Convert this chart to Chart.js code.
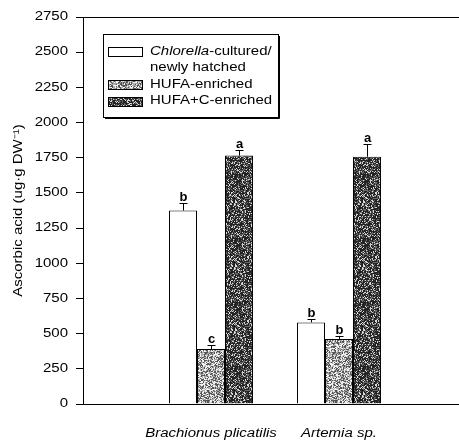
<!DOCTYPE html>
<html>
<head>
<meta charset="utf-8">
<script src="https://cdn.jsdelivr.net/npm/chart.js@4/dist/chart.umd.min.js"></script>
<style>
  html, body { margin: 0; padding: 0; background: #fff; overflow: hidden; width: 459px; height: 440px; }
  canvas { display: block; }
</style>
</head>
<body>
<canvas id="c" width="467" height="440"></canvas>
<script>
// ---- data ----
const categories = ['', 'Brachionus plicatilis', 'Artemia sp.', ''];
const seriesNames = ['Chlorella-cultured/ newly hatched', 'HUFA-enriched', 'HUFA+C-enriched'];
const chlorellaValues = [null, 1375, 580, null];
const hufaValues = [null, 390, 462, null];
const hufaCValues = [null, 1765, 1757, null];
const chlorellaErr = [null, 55, 25, null];
const hufaErr = [null, 28, 24, null];
const hufaCErr = [null, 40, 90, null];
const chlorellaLetters = ['', 'b', 'b', ''];
const hufaLetters = ['', 'c', 'b', ''];
const hufaCLetters = ['', 'a', 'a', ''];
const yTicks = [0, 250, 500, 750, 1000, 1250, 1500, 1750, 2000, 2250, 2500, 2750];

const FONT = '"Liberation Sans", Arial, sans-serif';
const TEXT_STRETCH = 1.25; // reference glyphs are wide

// ---- deterministic stipple patterns ----
function hash(x, y, s) {
  let h = (x * 374761393 + y * 668265263 + s * 982451653) | 0;
  h = (h ^ (h >>> 13)) * 1274126177 | 0;
  h = h ^ (h >>> 16);
  return ((h >>> 0) % 1000) / 1000;
}
function makePattern(levels, seed) {
  const c = document.createElement('canvas');
  c.width = 64; c.height = 64;
  const x = c.getContext('2d');
  const img = x.createImageData(64, 64);
  for (let j = 0; j < 64; j++) for (let i = 0; i < 64; i++) {
    const h = hash(i, j, seed);
    let v = levels[levels.length - 1][1];
    for (const [t, val] of levels) { if (h < t) { v = val; break; } }
    const k = (j * 64 + i) * 4;
    img.data[k] = img.data[k + 1] = img.data[k + 2] = v;
    img.data[k + 3] = 255;
  }
  x.putImageData(img, 0, 0);
  return document.getElementById('c').getContext('2d').createPattern(c, 'repeat');
}
const lightPat = makePattern([[0.33, 85], [0.68, 170], [1.01, 242]], 7);
const darkPat = makePattern([[0.55, 35], [0.82, 105], [1.01, 215]], 13);

const errs = [chlorellaErr, hufaErr, hufaCErr];
const letters = [chlorellaLetters, hufaLetters, hufaCLetters];

const wideText = {
  id: 'wideText',
  beforeDraw(chart) {
    const ctx = chart.ctx;
    if (ctx._origFillText) return;
    const orig = ctx.fillText;
    ctx._origFillText = orig;
    ctx.fillText = function (t, x, y) {
      this.save();
      this.translate(x, y);
      this.scale(TEXT_STRETCH, 1);
      orig.call(this, t, 0, 0);
      this.restore();
    };
  }
};

const overlay = {
  id: 'overlay',
  afterDatasetsDraw(chart) {
    const ctx = chart.ctx, y = chart.scales.y, a = chart.chartArea;
    const plainFill = ctx._origFillText || ctx.fillText;
    ctx.save();
    ctx.strokeStyle = '#000';
    ctx.fillStyle = '#000';
    ctx.lineWidth = 1;
    chart.data.datasets.forEach((ds, di) => {
      const meta = chart.getDatasetMeta(di);
      meta.data.forEach((bar, i) => {
        const v = ds.data[i];
        if (v == null) return;
        const e = errs[di][i];
        const x = Math.round(bar.x) + 0.5;
        const yTop = y.getPixelForValue(v);
        const yErr = Math.round(y.getPixelForValue(v + e)) + 0.5;
        ctx.beginPath();
        ctx.moveTo(x, yTop); ctx.lineTo(x, yErr);
        ctx.moveTo(x - 4, yErr); ctx.lineTo(x + 4, yErr);
        ctx.stroke();
        ctx.font = 'bold 13px ' + FONT;
        ctx.textAlign = 'center';
        ctx.textBaseline = 'alphabetic';
        plainFill.call(ctx, letters[di][i], x, yErr - 3);
      });
    });
    // top frame line
    ctx.beginPath();
    ctx.moveTo(a.left, a.top + 0.5);
    ctx.lineTo(chart.width, a.top + 0.5);
    ctx.stroke();
    // legend
    const L = 103, T = 34, R = 278, B = 117;
    ctx.fillStyle = '#fff';
    ctx.fillRect(L, T, R - L, B - T);
    ctx.strokeStyle = '#000';
    ctx.strokeRect(L + 0.5, T + 0.5, R - L, B - T);
    ctx.beginPath();
    ctx.moveTo(R + 1.5, T + 2); ctx.lineTo(R + 1.5, B + 1.5); ctx.lineTo(L + 2, B + 1.5);
    ctx.stroke();
    const sw = [[47, '#fff'], [80, lightPat], [97, darkPat]];
    sw.forEach(([sy, fill]) => {
      ctx.fillStyle = fill;
      ctx.fillRect(108, sy, 34, 9);
      ctx.strokeRect(108.5, sy + 0.5, 34, 9);
    });
    ctx.fillStyle = '#000';
    ctx.textAlign = 'left';
    ctx.textBaseline = 'middle';
    ctx.font = 'italic 12px ' + FONT;
    const w1 = ctx.measureText('Chlorella').width * TEXT_STRETCH;
    ctx.fillText('Chlorella', 150, 52);
    ctx.font = '12px ' + FONT;
    ctx.fillText('-cultured/', 150 + w1, 52);
    ctx.fillText('newly hatched', 150, 68);
    ctx.fillText(seriesNames[1], 150, 85);
    ctx.fillText(seriesNames[2], 150, 101);
    ctx.restore();
  }
};

const common = { borderColor: '#000', borderWidth: 1, borderSkipped: 'bottom', barPercentage: 1.0, categoryPercentage: 0.656 };

new Chart(document.getElementById('c'), {
  type: 'bar',
  data: {
    labels: categories,
    datasets: [
      Object.assign({ label: seriesNames[0], data: chlorellaValues, backgroundColor: '#fff' }, common),
      Object.assign({ label: seriesNames[1], data: hufaValues, backgroundColor: lightPat }, common),
      Object.assign({ label: seriesNames[2], data: hufaCValues, backgroundColor: darkPat }, common)
    ]
  },
  options: {
    responsive: false,
    animation: false,
    devicePixelRatio: 1,
    layout: { padding: { top: 17, right: 0, left: 0, bottom: 0 } },
    plugins: { legend: { display: false }, tooltip: { enabled: false } },
    scales: {
      x: {
        offset: false,
        grid: { display: true, drawOnChartArea: false, drawTicks: true, tickLength: 22, color: 'rgba(0,0,0,0)' },
        border: { display: true, color: '#000', width: 1 },
        ticks: {
          color: '#000', padding: 0, labelOffset: 0, maxRotation: 0, autoSkip: false,
          font: { family: FONT, size: 12, style: 'italic' }
        },
        afterFit(s) { s.height = 36; }
      },
      y: {
        min: 0, max: 2750,
        afterBuildTicks(s) { s.ticks = yTicks.map(v => ({ value: v })); },
        grid: { drawOnChartArea: false, drawTicks: true, tickLength: 7, color: '#000' },
        border: { display: true, color: '#000', width: 1 },
        ticks: {
          color: '#000', padding: 8,
          callback: v => String(v),
          font: { family: FONT, size: 12 }
        },
        title: {
          display: true, text: 'Ascorbic acid (ug·g DW⁻¹)', color: '#000',
          padding: { top: 11, bottom: 0 },
          font: { family: FONT, size: 12 }
        },
        afterFit(s) { s.width = 83; }
      }
    }
  },
  plugins: [wideText, overlay]
});
</script>
</body>
</html>
